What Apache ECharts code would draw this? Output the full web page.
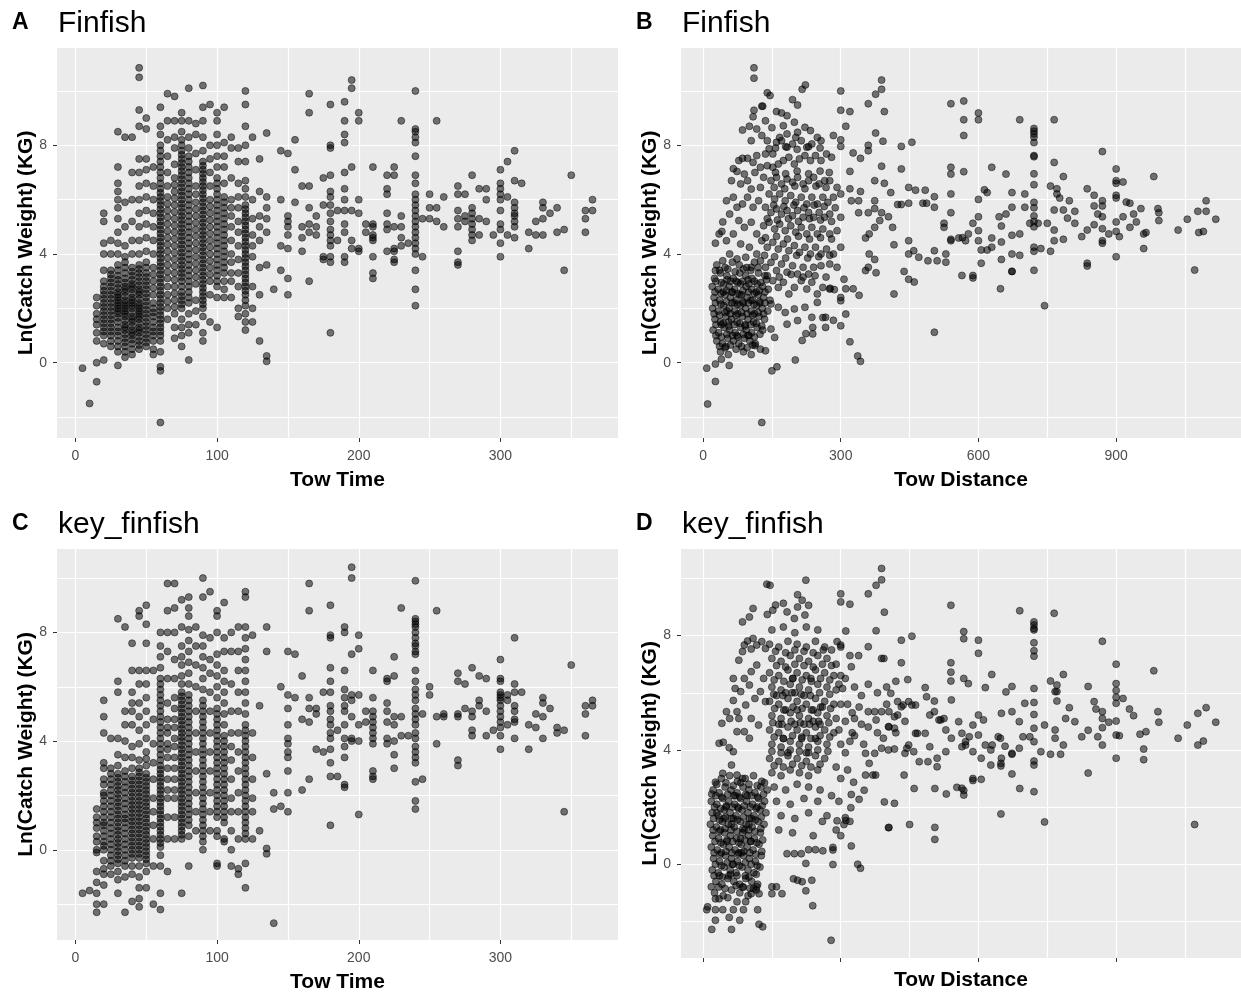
<!DOCTYPE html>
<html>
<head>
<meta charset="utf-8">
<script src="https://cdn.jsdelivr.net/npm/echarts@6.0.0/dist/echarts.min.js"></script>
<style>
  html, body { margin: 0; padding: 0; background: #fff; }
  #main { width: 1241px; height: 996px; }
</style>
</head>
<body>
<div id="main"></div>
<script>
// ---------- A: Finfish, ln(catch) grouped by tow time (min) ----------
var towTimeA = [5,10,15,20,25,30,35,40,45,50,55,60,65,70,75,80,85,90,95,100,105,110,115,120,125,130,135,140,145,150,155,160,165,170,175,180,185,190,195,200,205,210,220,225,230,235,240,245,250,255,260,270,275,280,285,290,295,300,305,310,315,320,325,330,335,340,345,350,360,365];
var lnCatchA = [
  [-0.2],
  [-1.5],
  [-0.7,0.0,0.8,1.1,1.4,1.8,2.1,1.6,2.4],
  [0.1,0.7,1.0,1.3,1.6,1.9,2.2,2.5,2.8,3.0,3.4,4.0,4.4,5.2,5.5,1.15,1.45,1.75,2.05,2.35,2.65],
  [0.6,1.0,1.3,1.6,1.9,2.2,2.5,2.8,3.1,3.4,4.0,4.5,0.8,1.15,1.45,1.75,2.05,2.35,2.65,2.95,3.25],
  [-0.1,0.4,0.8,1.0,1.3,1.5,1.8,2.0,2.2,2.4,2.6,2.9,3.2,3.6,4.0,4.4,4.8,5.3,5.7,6.0,6.3,6.6,7.2,8.5,0.6,1.15,1.65,1.9,2.1,2.3,2.5,2.75,3.05,3.4],
  [0.2,0.6,0.9,1.2,1.4,1.7,1.9,2.1,2.3,2.6,2.8,3.1,3.5,3.9,4.3,5.0,5.9,8.3,0.4,0.75,1.05,1.3,1.55,1.8,2.0,2.2,2.45,2.7,2.95,3.3,3.7],
  [0.3,0.7,1.0,1.2,1.5,1.7,2.0,2.2,2.4,2.7,2.9,3.2,3.5,4.0,4.5,5.2,6.0,7.0,8.3,0.5,0.85,1.1,1.35,1.6,1.85,2.1,2.3,2.55,2.8,3.05,3.35],
  [0.5,0.8,1.1,1.3,1.6,1.8,2.0,2.2,2.5,2.7,3.0,3.3,3.6,4.0,4.5,5.0,5.5,6.0,6.5,7.0,7.5,8.7,9.3,10.5,10.85,0.65,0.95,1.2,1.45,1.7,1.9,2.1,2.35,2.6,2.85,3.15,3.45],
  [0.6,0.9,1.2,1.5,1.8,2.1,2.4,2.7,3.0,3.3,3.7,4.1,4.6,5.1,5.6,6.1,6.6,7.1,7.5,8.6,9.0,0.75,1.05,1.35,1.65,1.95,2.25,2.55,2.85,3.15,3.5],
  [0.3,0.5,1.0,1.3,1.7,2.0,2.5,3.0,3.5,4.0,4.5,5.0,5.5,6.0,6.5,7.2,0.8,1.15,1.5,1.85,2.2,2.75,3.25],
  [-2.2,-0.3,-0.15,0.4,0.8,1.0,1.3,1.6,1.9,2.2,2.5,2.8,3.1,3.4,3.7,4.0,4.3,4.6,4.9,5.2,5.5,5.8,6.1,6.4,6.8,7.2,7.6,8.0,8.4,8.7,9.4,
   1.15,1.45,1.75,2.05,2.35,2.65,2.95,3.25,3.55,3.85,4.15,4.45,4.75,5.05,5.35,5.65,5.95,6.25,6.6,7.0,7.4,7.8],
  [1.6,2.0,2.5,3.1,3.6,4.1,4.6,5.1,5.6,6.1,6.5,7.0,7.6,8.2,8.9,9.9,2.25,2.8,3.35,3.85,4.35,4.85,5.35,5.85],
  [0.9,1.3,1.8,2.3,2.8,3.3,3.8,4.3,4.8,5.3,5.8,6.3,6.8,7.3,7.9,8.3,8.9,9.8,2.05,2.55,3.05,3.55,4.05,4.55,5.05,5.55,6.05,6.55],
  [0.6,1.0,1.3,1.6,2.0,2.3,2.6,3.0,3.3,3.6,3.9,4.2,4.5,4.8,5.1,5.4,5.7,6.0,6.3,6.6,6.9,7.2,7.5,7.8,8.2,8.5,8.9,9.2,
   2.15,2.45,2.8,3.15,3.45,3.75,4.05,4.35,4.65,4.95,5.25,5.55,5.85,6.15,6.45,6.75,7.05,7.35,7.65,8.0],
  [0.1,1.1,1.4,1.8,2.2,2.6,3.0,3.4,3.8,4.2,4.6,5.0,5.4,5.8,6.2,6.6,7.0,7.4,7.9,8.3,8.9,10.1,2.4,2.8,3.2,3.6,4.0,4.4,4.8,5.2,5.6,6.0,6.4,6.8,7.2,7.6],
  [1.4,1.9,2.3,2.9,3.4,3.9,4.4,4.9,5.4,5.9,6.5,7.1,7.7,8.4,8.8,3.15,3.65,4.15,4.65,5.15,5.65,6.2],
  [0.8,1.1,1.7,2.0,2.3,2.6,2.9,3.2,3.5,3.8,4.1,4.4,4.7,5.0,5.3,5.6,5.9,6.2,6.5,6.8,7.1,7.4,7.8,8.3,8.9,9.4,10.2,
   2.15,2.45,2.75,3.05,3.35,3.65,3.95,4.25,4.55,4.85,5.15,5.45,5.75,6.05,6.35,6.65,6.95,7.25],
  [1.5,2.5,3.0,3.5,4.0,4.5,5.0,5.5,6.0,6.5,7.0,7.5,8.0,9.5,3.25,3.75,4.25,4.75,5.25,5.75],
  [1.3,2.4,2.8,3.2,3.6,4.0,4.4,4.8,5.2,5.6,6.0,6.4,6.8,7.2,7.6,8.0,8.4,8.9,9.2,3.0,3.4,3.8,4.2,4.6,5.0,5.4,5.8,6.2,6.6],
  [2.4,2.7,3.0,3.3,3.7,4.1,4.5,4.9,5.3,5.7,6.1,6.6,7.2,7.6,8.1,9.4,3.5,3.9,4.3,4.7,5.1,5.5,5.9],
  [2.4,3.0,3.3,3.7,4.0,4.5,5.0,5.4,5.7,6.0,6.8,7.9,8.3],
  [1.7,2.0,2.8,3.3,3.8,4.3,4.8,5.2,5.7,6.1,6.6,7.4,7.9],
  [1.2,1.5,1.8,2.1,2.5,2.8,3.1,3.4,3.7,4.0,4.3,4.6,4.9,5.2,5.5,5.8,6.1,6.4,6.7,7.4,8.0,8.7,9.5,10.0,
   2.3,2.65,2.95,3.25,3.55,3.85,4.15,4.45,4.75,5.05,5.35,5.65],
  [1.5,2.0,2.8,3.9,4.3,4.7,5.3,6.0,8.3],
  [0.8,2.5,3.5,4.5,5.0,5.4,6.3,7.5],
  [0.05,0.25,3.6,4.8,5.3,5.7,6.1,8.45],
  [2.7],
  [3.4,4.3,6.0,7.8],
  [2.5,3.1,4.2,4.7,5.0,5.2,5.4,7.7],
  [5.9,7.1,8.2],
  [4.1,4.6,5.0,6.5],
  [3.0,4.8,5.1,5.7,6.5,9.2,9.9],
  [4.7,5.0,5.4],
  [3.8,3.9,5.8,6.8],
  [1.1,3.7,3.9,4.3,4.5,4.7,4.9,5.2,5.5,5.8,6.1,6.3,6.9,7.9,8.0,9.5],
  [4.5,5.6],
  [3.7,3.9,4.8,5.1,5.6,6.0,6.4,7.0,8.1,8.4,8.9,9.6],
  [4.2,4.5,5.6,7.2,10.1,10.4],
  [4.1,4.2,5.5,6.0,8.9,9.2],
  [4.8,5.1],
  [3.1,3.3,3.9,4.5,4.6,4.7,5.0,5.1,7.2],
  [4.1,4.9,5.1,5.5,6.2,6.4,6.9],
  [3.7,3.8,4.1,4.2,5.0,6.9,7.2],
  [4.3,4.6,5.0,5.4,8.9],
  [4.4],
  [2.1,2.7,3.4,4.0,4.2,4.4,4.6,4.8,5.0,5.2,5.4,5.6,5.8,6.0,6.2,6.6,6.9,7.6,8.1,8.3,8.5,8.6,10.0],
  [3.9,5.3],
  [5.3,5.7,6.2],
  [5.2,5.7,8.9],
  [5.0,6.1],
  [3.6,3.7,4.1,5.0,5.3,5.6,6.2,6.5],
  [5.2,5.4,6.2],
  [4.5,4.7,4.9,5.1,5.3,5.5,5.7,6.9],
  [4.7,5.3,6.4],
  [5.2,6.0,6.4],
  [4.7],
  [3.9,4.4,4.9,5.1,5.6,6.0,6.2,6.4,6.6,7.1],
  [4.7,6.1,7.4],
  [4.6,5.0,5.2,5.4,5.5,5.7,5.9,6.7,7.8],
  [6.6],
  [4.2,4.8],
  [4.7,5.2],
  [4.7,5.3,5.7,5.9],
  [5.5],
  [4.8,5.7],
  [3.4,4.9],
  [6.9],
  [4.8,5.3,5.6],
  [5.6,6.0]
];

// ---------- B: Finfish, [tow distance, ln(catch)] ----------
var towDistB = [
  [111,10.85],[111,10.47],[140,9.93],[146,9.83],[223,10.22],[216,10.06],[300,10.0],[389,10.4],[389,10.06],[376,9.88],
  [360,9.53],[195,9.68],[206,9.48],[130,9.44],[111,9.29],[300,9.29],[320,9.24],[395,9.24],[540,9.53],[568,9.63],
  [600,9.19],[600,8.94],[568,8.94],[568,8.36],[690,8.94],[765,8.94],
  [721,8.62],[721,8.52],[721,8.42],[721,8.3],[721,8.1],[721,7.62],[721,7.58],[721,6.95],[721,6.55],[721,5.9],
  [721,5.7],[721,5.4],[721,5.2],[721,5.0],[721,4.25],[721,4.1],[721,3.4],
  [870,7.77],[765,7.37],[785,6.85],[900,7.13],[900,6.7],[900,6.6],[915,6.65],[900,6.16],[900,6.06],[982,6.85],
  [629,7.19],[660,6.94],[540,7.19],[540,6.94],[568,7.03],[432,7.96],[455,8.11],[432,7.13],[360,8.0],[360,7.8],
  [392,8.15],[376,8.45],[311,8.7],[284,8.36],[300,8.2],[300,7.96],[327,7.72],[343,7.52],[389,7.23],[395,6.6],
  [409,6.26],[374,6.7],[343,6.3],
  [448,6.45],[463,6.35],[484,6.35],[479,5.87],[487,5.87],[504,6.11],[504,5.72],[525,5.13],[525,4.98],[540,6.21],
  [540,5.52],[540,4.54],[540,4.49],[557,4.59],[565,4.6],[572,4.49],[578,4.74],[588,5.13],[600,6.01],[600,5.37],
  [600,4.86],[600,4.49],[606,4.15],[619,4.15],[613,6.36],[619,6.26],[629,4.59],[629,4.25],[645,5.37],[650,5.03],
  [650,4.44],[650,3.8],[660,5.47],[673,6.26],[673,5.72],[673,4.69],[673,4.0],[673,3.36],[690,4.74],[690,3.95],
  [701,6.21],[701,5.72],[712,5.13],[730,5.13],[736,4.2],[744,2.1],[750,5.13],[757,6.5],[757,4.1],[765,5.62],
  [765,4.88],[765,4.49],[771,6.4],[771,6.21],[777,6.06],[785,5.62],[785,4.54],[794,5.32],[798,5.96],[810,5.57],
  [810,5.13],[825,4.64],[837,6.4],[837,4.88],[837,3.66],[837,3.56],[852,6.16],[852,5.77],[852,5.08],[860,5.47],
  [870,5.96],[870,5.77],[870,5.37],[870,4.93],[870,4.49],[870,4.4],[884,4.74],[900,5.18],[900,4.83],[900,3.9],
  [907,4.64],[915,5.37],[922,5.91],[930,5.87],[930,4.98],[938,5.47],[944,5.18],[954,5.67],[960,4.74],[965,4.79],
  [960,4.2],[991,5.67],[993,5.52],[993,5.23],[1035,4.88],[1055,5.28],[1071,3.41],[1078,5.57],[1080,4.79],[1090,4.83],
  [1096,5.96],[1096,5.57],[1117,5.28],
  [320,7.04],[320,6.4],[323,5.96],[339,5.96],[339,5.52],[360,5.52],[362,4.74],[354,4.59],[374,5.96],[374,5.67],
  [374,4.98],[385,5.23],[389,5.52],[404,5.37],[413,4.98],[416,4.34],[424,5.82],[432,5.82],[448,5.87],[448,4.49],
  [448,4.0],[459,4.12],[470,3.88],[490,3.75],[504,4.12],[510,3.75],[529,4.0],[529,3.7],[362,4.0],[374,3.8],
  [360,3.51],[377,3.31],[354,3.39],[416,2.53],[438,3.36],[448,3.07],[460,2.97],[504,1.12],[564,3.21],[588,3.21],
  [588,3.12],[606,3.66],[648,2.72],[673,3.36],
  [311,2.72],[327,2.72],[307,3.07],[340,2.48],[320,0.77],[337,0.25],[343,0.05],[300,2.4],[300,2.28],[311,1.79],
  [300,1.36],[284,1.56],[267,1.3],[261,1.66],[286,2.69],[277,2.74],
  [8,-0.2],[10,-1.52],[27,-0.69],[27,-0.05],[40,0.13],[57,-0.1],[128,-2.2],[150,-0.3],[161,-0.15],[201,0.1],
  [216,0.82],[239,1.3],[239,1.06],[224,1.07],[267,1.67],
  [86,8.56],[101,8.7],[109,9.05],[128,9.44],[117,8.6],[136,8.9],[150,8.65],[160,9.24],[171,9.19],[183,9.09],
  [199,8.85],[175,8.72],[86,7.52],[78,7.44],[97,7.52],[109,7.37],[117,7.62],[74,7.04],[90,6.94],[113,7.0],
  [97,6.7],[66,7.14],[62,6.7],
  [144,7.87],[152,7.68],[140,7.25],[160,8.11],[171,8.17],[183,7.93],[195,8.05],[202,8.29],[214,8.17],[226,7.93],
  [237,8.05],[249,8.29],[257,8.17],[222,8.66],[234,8.54],[206,8.48],[183,8.42],[167,8.29],
  [152,7.19],[164,7.31],[175,7.44],[187,7.56],[199,7.31],[210,7.5],[222,7.62],[234,7.44],[245,7.62],[257,7.44],
  [269,7.68],[280,7.56],
  [148,6.7],[160,6.82],[171,6.58],[183,6.76],[195,6.64],[206,6.82],[218,6.58],[230,6.7],[241,6.82],[253,6.58],
  [265,6.7],[276,6.7],[292,6.45],
  [144,6.21],[156,6.02],[167,6.21],[179,5.96],[191,6.15],[202,5.9],[214,6.09],[226,5.84],[237,6.09],[249,5.84],
  [261,6.09],[272,5.9],[284,6.09],[300,6.21],
  [136,5.72],[148,5.53],[160,5.66],[171,5.47],[183,5.6],[195,5.41],[206,5.6],[218,5.35],[230,5.53],[241,5.35],
  [253,5.53],[265,5.35],[276,5.47],[300,5.35],
  [132,5.04],[144,5.17],[156,4.92],[167,5.1],[179,4.86],[191,5.04],[202,4.8],[214,4.98],[226,4.74],[237,4.98],
  [249,4.74],[261,4.92],[276,4.74],[292,4.86],
  [128,4.49],[140,4.25],[152,4.43],[164,4.18],[175,4.37],[187,4.12],[199,4.31],[210,4.06],[222,4.25],[234,4.0],
  [245,4.25],[257,4.0],[269,4.18],[284,4.0],[300,4.25],
  [125,3.75],[136,3.51],[148,3.69],[160,3.39],[171,3.63],[183,3.33],[195,3.57],[206,3.26],[218,3.51],[230,3.26],
  [241,3.51],[257,3.57],[276,3.63],[292,3.51],
  [152,3.02],[164,2.77],[175,2.96],[187,2.53],[199,2.77],[214,3.02],[226,2.71],[237,2.96],[249,2.53],[261,2.77],
  [276,2.71],
  [148,2.16],[164,2.04],[179,1.85],[199,1.98],[222,2.04],[237,1.67],[249,2.22],[183,1.42],[206,1.55],[148,1.24],
  [156,0.93],[136,0.44],[125,0.5],[113,0.63],
  [158,7.9],[180,7.95],[205,7.85],[230,7.95],[255,7.9],
  [158,7.0],[180,6.95],[205,7.05],[230,6.95],[255,7.05],[275,7.0],
  [155,6.45],[178,6.4],[200,6.5],[222,6.4],[246,6.5],[268,6.45],
  [154,5.8],[176,5.75],[198,5.8],[220,5.7],[242,5.8],[264,5.75],[288,5.7],
  [140,5.3],[162,5.25],[186,5.3],[208,5.2],[232,5.3],[256,5.25],[280,5.2],
  [136,4.6],[160,4.65],[184,4.55],[208,4.65],[232,4.55],[256,4.6],[280,4.55],
  [134,3.95],[156,3.9],[180,3.85],[204,3.95],[228,3.85],[252,3.9],[276,3.95],
  [140,3.2],[166,3.15],[192,3.25],[218,3.15],[244,3.2],[268,3.15],
  [43,5.18],[51,5.96],[66,6.09],[41,4.83],[27,4.4],[35,4.74],[58,5.47],[74,5.72],[86,5.84],[97,6.09],
  [109,5.72],[121,5.96],[78,5.23],[90,4.98],[105,5.17],[117,4.74],[66,4.74],[51,4.49],[82,4.37],[101,4.25],
  [117,4.0],[58,4.0],[74,3.82],[93,3.88],[105,3.51],[43,3.75],[27,3.39],
  [82,6.58],[105,6.39],[125,6.45],[132,6.82],[125,7.19],[136,7.68],[105,8.17],[128,8.36],[140,8.17],
  [30,3.6],[48,3.5],[64,3.7],[79,3.6],[95,3.5],[112,3.7],
  [36,3.4],[54,3.45],[70,3.35],[88,3.45],[104,3.4],[120,3.5],
  [25,3.1],[38,3.3],[52,3.2],[66,3.1],[80,3.3],[93,3.2],[107,3.1],[121,3.3],[135,3.2],
  [28,3.0],[40,2.95],[52,3.05],[72,3.0],[76,2.95],[98,3.05],[112,3.0],[126,2.95],[138,3.05],
  [20,2.8],[33,2.7],[45,2.9],[57,2.8],[69,2.7],[82,2.9],[94,2.8],[106,2.7],[118,2.9],[130,2.8],[142,2.7],
  [26,2.6],[39,2.55],[51,2.65],[63,2.6],[75,2.55],[87,2.65],[99,2.6],[111,2.55],[123,2.65],[135,2.6],
  [24,2.4],[36,2.3],[48,2.5],[60,2.4],[72,2.3],[84,2.5],[96,2.4],[108,2.3],[120,2.5],[132,2.4],[146,2.3],
  [27,2.2],[39,2.15],[51,2.25],[63,2.2],[75,2.15],[87,2.25],[99,2.2],[111,2.15],[123,2.25],[135,2.2],
  [21,2.0],[33,1.9],[45,2.1],[57,2.0],[69,1.9],[81,2.1],[93,2.0],[105,1.9],[117,2.1],[129,2.0],[141,1.9],
  [24,1.8],[36,1.75],[48,1.85],[60,1.8],[72,1.75],[84,1.85],[96,1.8],[108,1.75],[120,1.85],[132,1.8],
  [26,1.6],[38,1.5],[50,1.7],[62,1.6],[74,1.5],[86,1.7],[98,1.6],[110,1.5],[122,1.7],[134,1.6],
  [28,1.4],[44,1.45],[56,1.35],[68,1.4],[80,1.45],[92,1.35],[104,1.4],[116,1.45],[128,1.35],
  [22,1.2],[34,1.1],[46,1.3],[58,1.2],[70,1.1],[82,1.3],[94,1.2],[106,1.1],[118,1.3],[130,1.2],
  [28,1.0],[40,0.95],[52,1.05],[64,1.0],[76,0.95],[88,1.05],[100,1.0],[112,0.95],[124,1.05],
  [30,0.8],[42,0.7],[54,0.9],[66,0.8],[78,0.7],[90,0.9],[102,0.8],[114,0.7],
  [36,0.6],[48,0.55],[60,0.65],[84,0.6],[96,0.55],[108,0.65],
  [38,0.4],[55,0.3],[72,0.5],[88,0.4],[105,0.3],
  [40,1.4],[52,1.9],[64,2.6],[76,1.8],[88,2.2],[100,2.9],[112,1.8],[124,2.2],[44,2.6],[56,1.5],
  [68,2.2],[80,2.5],[92,1.4],[104,2.3],[116,2.6],[60,3.0],[86,3.0],[74,1.0],[98,1.0],[50,0.6]
];

// ---------- C: key_finfish, ln(catch) grouped by tow time (min) ----------
var towTimeC = [5,10,15,20,25,30,35,40,45,50,55,60,65,70,75,80,85,90,95,100,105,110,115,120,125,130,135,140,145,150,155,160,165,170,175,180,185,190,195,200,205,210,220,225,230,235,240,245,250,255,260,270,275,280,285,290,295,300,305,310,315,320,325,330,335,340,345,350,360,365];
var lnCatchC = [
  [-1.6],
  [-1.5],
  [1.5,0.3,-0.1,-0.8,-1.2,-1.6,-2.0,-2.3,0.8,1.0,0.0,0.5,1.2],
  [5.5,4.9,4.3,3.2,3.0,2.4,2.1,1.4,1.2,0.9,0.7,0.3,0.0,-0.4,-0.7,-0.9,-1.3,-2.0,1.8,0.15,0.5,1.0,1.6,2.0,2.6],
  [4.1,3.0,2.6,2.2,1.8,1.4,1.0,0.6,0.2,-0.2,-0.6,-0.9,0.0,0.4,0.8,1.2,1.6,2.0,2.4,2.8,-0.4],
  [8.5,6.2,5.8,4.1,3.5,3.1,2.8,2.5,2.2,1.9,1.6,1.3,1.0,0.7,0.4,0.1,-0.2,-0.5,-0.8,-1.1,-1.6,
   -0.35,-0.05,0.25,0.55,0.85,1.15,1.45,1.75,2.05,2.35,2.65],
  [8.2,5.1,4.6,4.0,3.4,2.9,2.5,2.1,1.7,1.3,1.0,0.6,0.2,-0.2,-0.6,-1.0,-2.3,-0.4,0.0,0.4,0.8,1.15,1.5,1.9,2.3,2.7],
  [7.6,6.6,5.8,5.4,5.1,4.6,3.8,3.4,2.7,2.4,2.1,1.8,1.5,1.2,0.9,0.6,0.3,0.0,-0.3,-0.6,-0.9,-1.9,
   -0.15,0.15,0.45,0.75,1.05,1.35,1.65,1.95,2.25,2.55,3.0],
  [8.8,8.6,6.6,6.1,5.4,4.9,4.4,3.9,3.3,3.0,2.7,2.4,2.1,1.8,1.5,1.2,0.9,0.6,0.3,0.0,-0.3,-0.6,-1.0,-1.4,-1.8,-2.1,
   -0.15,0.15,0.45,0.75,1.05,1.35,1.65,1.95,2.25,2.55,2.85],
  [9.0,8.3,7.6,6.6,6.1,5.6,5.1,4.6,4.1,3.6,3.1,2.8,2.5,2.2,1.9,1.6,1.3,1.0,0.7,0.4,0.1,-0.2,-0.5,-0.8,-1.4,
   -0.35,-0.05,0.25,0.55,0.85,1.15,1.45,1.75,2.05,2.35,2.65,3.35],
  [6.6,4.8,3.9,2.6,1.4,0.4,-0.6,-2.0,0.9,1.9,3.2],
  [8.0,7.5,7.1,6.7,6.3,5.9,5.5,5.1,4.7,4.3,3.9,3.5,3.1,2.8,2.5,2.2,1.9,1.6,1.3,1.0,0.7,0.4,0.1,-0.2,-0.6,-1.6,-2.2,
   0.25,0.55,0.85,1.15,1.45,1.75,2.05,2.35,2.65,2.95,3.3,3.7,4.1,4.5,4.9,5.3,5.7,6.1],
  [9.8,8.8,8.0,7.3,6.3,5.4,4.8,4.3,3.9,3.4,2.6,1.9,1.2,0.4,-0.8,2.2,3.0,3.7,4.5],
  [9.8,8.9,8.0,7.0,6.3,5.6,4.8,4.1,3.4,2.6,1.9,1.2,0.4,2.2,3.0,3.8,4.5,5.2],
  [9.2,8.2,7.5,7.1,6.8,6.4,6.1,5.8,5.5,5.2,4.9,4.6,4.3,4.0,3.7,3.4,3.1,2.8,2.5,2.2,1.9,1.6,1.3,1.0,0.7,0.4,-1.6,
   0.55,0.85,1.15,1.45,1.75,2.05,2.35,2.65,2.95,3.25,3.55,3.85,4.15,4.45,4.75,5.05,5.35,5.65],
  [9.3,8.9,8.6,8.1,7.7,7.3,6.9,6.5,6.1,5.7,5.3,4.9,4.5,4.1,3.7,3.3,2.9,2.5,2.1,1.7,1.3,0.9,0.5,-0.6,
   1.1,1.5,1.9,2.3,2.7,3.1,3.5,3.9,4.3,4.7,5.1,5.5],
  [8.2,7.5,6.8,6.0,5.1,4.3,3.6,2.9,2.1,1.4,0.7],
  [10.0,9.3,7.9,7.5,7.1,6.7,6.3,5.9,5.5,5.1,4.7,4.3,3.9,3.5,3.1,2.7,2.3,1.9,1.5,1.1,0.7,0.3,0.0,
   0.5,0.9,1.3,1.7,2.1,2.5,2.9,3.3,3.7,4.1,4.5,4.9,5.3],
  [9.5,7.8,7.0,6.5,5.8,5.1,4.3,3.6,2.9,2.1,1.4,0.7],
  [8.8,8.6,8.0,7.2,6.8,6.4,6.0,5.6,5.2,4.8,4.4,4.0,3.6,3.2,2.8,2.4,2.0,1.6,1.2,0.7,0.5,-0.5,-0.6,1.4,1.8,2.2,2.6,3.0,3.4,3.8,4.2,4.6,5.0],
  [9.1,7.8,7.3,6.6,6.2,5.8,5.4,5.0,4.6,4.2,3.8,3.4,3.0,2.6,2.2,1.8,1.4,1.0,0.4,0.3,1.2,1.6,2.0,2.4,2.8,3.2,3.6,4.0],
  [8.0,7.3,6.1,5.1,4.3,3.8,3.3,2.6,1.9,1.4,0.7,0.0,-0.6],
  [8.2,7.3,6.6,5.8,5.1,4.3,3.6,2.9,2.1,1.4,0.4,-0.7,-0.9],
  [9.5,9.3,8.2,7.8,7.4,7.0,6.6,6.2,5.8,5.4,5.0,4.6,4.2,3.8,3.4,3.0,2.6,2.2,1.8,1.4,1.0,0.6,0.4,-0.5,-1.4,
   0.8,1.2,1.6,2.0,2.4,2.8,3.2,3.6,4.0,4.4],
  [7.9,4.3,3.4,2.6,1.9,1.4,0.4],
  [5.3,0.7],
  [8.2,7.3,2.8,0.05,-0.15],
  [2.1,1.5,-2.7],
  [6.0,1.6],
  [7.3,5.7,5.2,4.6,4.1,3.9,3.6,3.4,2.9,2.1,1.4],
  [7.2,5.6],
  [6.4,4.8,2.2],
  [9.8,8.8,5.6,5.2,4.7,2.6],
  [5.2,5.0,3.7],
  [5.8,3.6],
  [9.0,7.9,7.8,6.7,6.2,5.8,5.3,5.1,4.8,4.6,4.3,4.1,3.7,3.2,2.7,0.9],
  [4.4,2.7],
  [8.2,8.0,6.6,5.9,5.6,5.3,5.1,4.6,4.1,3.8,3.4,2.4,2.3],
  [10.4,10.0,7.2,5.7,5.5,4.9,4.1,4.0],
  [7.9,7.4,5.7,4.6,4.0,1.3],
  [5.1,4.7],
  [6.6,5.6,5.1,4.9,4.7,4.5,4.3,4.1,3.9,2.9,2.7,2.6],
  [6.3,6.2,5.4,5.1,4.7,4.1,3.9],
  [7.1,6.4,4.9,4.6,4.0,3.5,3.0],
  [8.9,4.9,4.2],
  [4.2],
  [9.9,8.5,8.4,8.3,8.2,8.0,7.8,7.6,7.5,7.3,7.2,6.6,6.2,5.9,5.7,5.5,5.2,5.0,4.8,4.6,4.3,4.1,3.8,3.6,3.4,3.2,2.5,1.8,1.5],
  [5.0,2.6],
  [6.0,5.7],
  [8.8,4.9,3.9],
  [4.9,5.0],
  [6.5,6.2,5.0,4.9,3.3,3.1],
  [6.1,5.2],
  [6.7,5.1,4.9,4.4,4.2],
  [6.4,5.5,5.3],
  [6.3,5.1,4.2],
  [4.4],
  [7.0,6.3,6.2,5.8,5.7,5.6,5.5,5.3,5.1,4.9,4.7,4.5,4.2,3.7],
  [5.7,5.5,4.6],
  [7.8,6.1,5.8,5.3,5.1,4.8,4.7,4.1],
  [5.8],
  [4.6,3.7],
  [5.0,4.5],
  [5.6,5.4,4.9,4.1],
  [5.2],
  [4.5,4.3],
  [4.4,1.4],
  [6.8],
  [5.3,5.0,4.2],
  [5.5,5.3]
];

// ---------- D: key_finfish, [tow distance, ln(catch)] ----------
var towDistD = [
  [389,10.35],[389,9.95],[377,9.76],[360,9.46],[224,9.94],[139,9.8],[146,9.76],[300,9.46],[300,9.18],[320,9.1],
  [206,9.43],[216,9.24],[230,9.06],[222,8.72],[395,8.82],[377,8.17],[360,7.61],[540,9.06],[690,8.87],[765,8.78],
  [721,8.48],[721,8.37],[721,8.25],[721,8.2],[721,7.75],[721,7.47],[721,7.28],[568,8.14],[568,7.89],[600,7.84],
  [600,7.38],[870,7.8],[900,7.0],[982,6.77],[455,7.98],[432,7.84],[432,7.05],[540,7.05],[540,6.72],[540,6.41],
  [568,6.5],[578,6.32],[629,6.64],[660,6.03],[673,6.22],[615,6.18],[446,6.46],[484,6.18],[757,6.41],[771,6.27],
  [785,6.64],[771,6.04],[839,6.22],[900,6.32],[900,6.08],[1071,1.39],[744,1.48],[649,1.76],[505,1.29],[505,0.87],
  [450,1.39],[405,1.29],[395,2.18],[417,2.13],[460,2.65],[505,2.65],[530,2.46],[553,2.69],[568,2.58],[568,2.42],
  [588,2.93],[606,2.97],[690,2.65],[721,2.54],[673,3.16],[649,3.44],
  [283,-0.01],[279,-2.66],[337,0.0],[343,-0.14],[323,0.64],[283,0.59],[283,0.5],[311,1.53],[307,1.39],[310,1.63],
  [292,1.52],[322,1.98],[323,2.44],[351,2.59],[340,2.27],[328,2.87],[404,1.28],
  [239,-1.45],[206,-0.56],[216,-0.61],[197,-0.51],[224,-0.93],[237,-0.56],[224,0.03],[183,0.37],[199,0.37],[214,0.37],
  [230,0.51],[245,0.51],[261,0.47],[150,-1.03],[150,-0.79],[172,-1.03],[160,-0.79],
  [467,4.58],[484,4.58],[494,5.22],[504,5.34],[518,5.05],[529,4.7],[541,4.41],[541,5.75],[557,4.99],[564,4.58],
  [572,4.17],[580,4.46],[588,4.87],[600,5.22],[600,4.52],[611,5.05],[615,4.17],[627,4.0],[643,4.46],[650,3.71],
  [650,5.28],[658,4.13],[673,5.34],[673,3.85],[689,4.99],[697,4.46],[701,5.63],[712,4.46],[721,4.76],[721,4.29],
  [721,3.61],[721,3.47],[721,6.15],[721,5.66],[721,5.24],[736,3.94],[744,4.87],[757,3.85],[767,4.7],[767,4.41],
  [767,6.04],[771,5.71],[779,3.85],[785,4.17],[790,5.1],[798,5.48],[810,4.99],[825,4.46],[839,4.69],[839,3.19],
  [852,5.69],[856,5.43],[870,5.34],[870,5.1],[870,4.78],[870,4.17],[860,4.46],[884,4.97],[900,5.84],[900,5.63],
  [900,5.01],[900,4.52],[900,3.71],[915,5.8],[907,4.5],[929,5.43],[938,5.2],[952,4.55],[960,4.03],[960,3.66],
  [965,4.64],[991,5.34],[993,4.97],[1035,4.41],[1055,4.87],[1078,5.28],[1078,4.17],[1090,4.31],[1096,5.48],[1117,4.97],
  [487,5.86],[504,5.71],[514,5.05],[525,5.1],[424,5.69],[436,5.57],[463,5.57],[417,5.16],[405,4.81],[463,4.58],
  [494,4.11],[510,3.71],[510,3.41],[529,3.94],[471,3.59],[490,3.59],[440,3.88],[444,4.06],[564,4.11],[572,4.29],
  [588,3.94],[606,3.71],[627,3.47],[649,3.53],[673,3.88],[689,4.06],[648,4.41],[630,4.17],[588,3.0],[564,2.66],
  [292,7.79],[300,7.67],[311,8.16],[320,7.3],[339,7.3],[323,6.91],[304,6.15],[360,5.34],[374,5.34],[377,5.05],
  [389,5.34],[389,7.2],[394,7.2],[405,5.34],[404,4.81],[417,4.76],[424,5.22],[409,5.98],[432,5.51],[448,5.69],
  [455,5.57],[354,3.88],[374,3.88],[362,3.53],[376,3.12],[354,3.12],[370,3.12],[389,4.06],[404,4.0],[417,4.03],
  [438,3.12],[459,3.94],[448,4.17],[393,4.41],
  [310,6.5],[330,6.2],[345,5.9],[360,6.3],[380,6.0],[400,6.2],[420,6.4],[340,5.5],[360,4.8],[330,4.5],
  [350,4.2],[380,4.6],[400,5.6],[420,4.6],[440,5.0],[315,5.6],[325,5.3],[345,4.9],
  [19,2.46],[27,2.87],[43,3.18],[35,4.23],[44,4.27],[41,4.93],[57,4.08],[66,3.94],[62,3.47],[74,3.12],[86,3.0],
  [66,5.73],[74,5.34],[78,5.1],[82,6.04],[66,6.5],[70,6.15],[78,7.14],[86,7.44],[90,7.67],[97,7.81],
  [105,7.53],[109,7.9],[117,7.67],[128,7.79],[136,7.55],[86,8.48],[101,8.65],[109,8.95],[140,8.74],[158,9.07],
  [175,9.13],[183,8.83],[199,8.6],[206,9.0],[152,8.89],[90,6.5],[101,6.27],[113,5.8],[125,6.04],[136,5.69],
  [105,6.74],[117,6.97],[132,6.5],[93,5.57],[105,5.1],[121,4.87],[90,4.64],[101,4.41],[74,4.64],[58,5.1],[51,5.34],
  [150,8.2],[175,8.3],[200,8.1],[225,8.3],[250,8.2],
  [145,7.7],[165,7.6],[185,7.8],[205,7.7],[225,7.6],[245,7.8],[265,7.6],
  [158,7.45],[180,7.4],[200,7.5],[220,7.45],[240,7.4],[262,7.5],
  [150,7.2],[170,7.1],[190,7.3],[210,7.2],[230,7.1],[250,7.3],[270,7.2],
  [160,6.95],[180,6.9],[200,7.0],[220,6.95],[240,6.9],[260,7.0],[280,6.95],
  [145,6.7],[165,6.6],[185,6.8],[205,6.7],[225,6.6],[245,6.8],[265,6.7],[285,6.6],
  [155,6.45],[176,6.4],[196,6.5],[216,6.45],[236,6.4],[256,6.5],[276,6.45],
  [150,6.2],[170,6.1],[190,6.3],[210,6.2],[230,6.1],[250,6.3],[270,6.2],[290,6.1],
  [154,5.95],[174,5.9],[194,6.0],[214,5.95],[234,5.9],[254,6.0],[276,5.95],
  [145,5.7],[165,5.6],[185,5.8],[205,5.7],[225,5.6],[245,5.8],[265,5.7],[285,5.6],
  [156,5.45],[176,5.4],[196,5.5],[216,5.45],[236,5.4],[256,5.5],[278,5.45],
  [150,5.2],[170,5.1],[190,5.3],[210,5.2],[230,5.1],[250,5.3],[270,5.2],[290,5.1],
  [152,4.95],[172,4.9],[192,5.0],[212,4.95],[232,4.9],[252,5.0],[274,4.95],
  [145,4.7],[165,4.6],[185,4.8],[205,4.7],[225,4.6],[245,4.8],[265,4.7],[285,4.6],
  [155,4.45],[175,4.4],[195,4.5],[215,4.45],[235,4.4],[255,4.5],[276,4.45],
  [150,4.2],[170,4.1],[190,4.3],[210,4.2],[230,4.1],[250,4.3],[270,4.2],
  [150,3.95],[170,3.9],[190,4.0],[210,3.95],[230,3.9],[250,4.0],[272,3.95],
  [145,3.7],[165,3.6],[185,3.8],[205,3.7],[225,3.6],[245,3.8],[265,3.7],
  [155,3.45],[175,3.4],[195,3.5],[215,3.45],[235,3.4],[255,3.5],
  [150,3.2],[170,3.1],[190,3.3],[210,3.2],[230,3.1],[250,3.3],
  [155,2.7],[180,2.6],[205,2.8],[230,2.7],[255,2.6],
  [160,2.2],[190,2.1],[220,2.3],[250,2.2],
  [170,1.7],[200,1.6],[230,1.8],[260,1.5],
  [165,1.2],[195,1.1],[240,1.0],
  [160,5.9],[180,5.4],[200,4.9],[220,5.9],[240,5.4],[175,4.4],[195,6.5],[215,4.4],[235,6.5],[255,4.9],
  [165,4.9],[185,3.9],[205,5.4],[225,3.9],[245,4.4],[180,6.0],[200,6.0],[220,4.9],[240,5.0],[260,5.5],
  [280,7.5],[300,7.6],[290,7.0],[300,6.6],[296,6.3],[300,5.6],[310,5.0],[296,4.7],[300,4.2],[320,4.3],
  [310,3.9],[290,3.4],[300,3.0],[315,3.3],[325,4.6],[330,5.1],[296,2.2],[280,2.4],[270,1.7],[290,1.2],
  [300,1.0],[320,1.5],
  [40,3.0],[58,3.1],[75,2.9],[92,3.0],[110,3.1],[128,2.9],
  [30,2.8],[50,2.85],[66,2.75],[82,2.85],[100,2.8],[118,2.75],[134,2.85],
  [22,2.6],[35,2.5],[48,2.7],[61,2.6],[74,2.5],[87,2.7],[100,2.6],[113,2.5],[126,2.7],[140,2.6],
  [28,2.4],[41,2.35],[54,2.45],[67,2.4],[80,2.35],[93,2.45],[106,2.4],[119,2.35],[132,2.45],
  [18,2.2],[30,2.1],[43,2.3],[56,2.2],[69,2.1],[82,2.3],[95,2.2],[108,2.1],[121,2.3],[134,2.2],
  [25,2.0],[38,1.95],[51,2.05],[64,2.0],[77,1.95],[90,2.05],[103,2.0],[116,1.95],[129,2.05],
  [20,1.8],[33,1.7],[46,1.9],[59,1.8],[72,1.7],[85,1.9],[98,1.8],[111,1.7],[124,1.9],[137,1.8],
  [23,1.6],[36,1.55],[49,1.65],[62,1.6],[75,1.55],[88,1.65],[101,1.6],[114,1.55],[127,1.65],
  [16,1.4],[29,1.3],[42,1.5],[55,1.4],[68,1.3],[81,1.5],[94,1.4],[107,1.3],[120,1.5],[133,1.4],
  [22,1.2],[35,1.15],[48,1.25],[61,1.2],[74,1.15],[87,1.25],[100,1.2],[113,1.15],[126,1.25],
  [21,1.0],[34,0.9],[47,1.1],[60,1.0],[73,0.9],[86,1.1],[99,1.0],[112,0.9],[125,1.1],
  [26,0.8],[39,0.75],[52,0.85],[65,0.8],[78,0.75],[91,0.85],[104,0.8],[117,0.75],[130,0.85],
  [18,0.6],[31,0.5],[44,0.7],[57,0.6],[70,0.5],[83,0.7],[96,0.6],[109,0.5],[122,0.7],
  [24,0.4],[37,0.35],[50,0.45],[63,0.4],[76,0.35],[89,0.45],[102,0.4],[115,0.35],[128,0.45],
  [23,0.2],[36,0.1],[49,0.3],[62,0.2],[75,0.1],[88,0.3],[101,0.2],[114,0.1],[127,0.3],
  [27,0.0],[40,-0.05],[53,0.05],[66,0.0],[79,-0.05],[92,0.05],[105,0.0],[118,-0.05],
  [20,-0.2],[33,-0.3],[46,-0.1],[59,-0.2],[72,-0.3],[85,-0.1],[98,-0.2],[111,-0.3],[124,-0.1],
  [24,-0.4],[42,-0.45],[60,-0.35],[74,-0.4],[100,-0.45],[116,-0.35],
  [28,-0.6],[41,-0.7],[54,-0.5],[67,-0.6],[80,-0.7],[93,-0.5],[106,-0.6],[119,-0.7],
  [34,-0.8],[48,-0.85],[72,-0.75],[86,-0.8],[110,-0.85],
  [25,-1.0],[44,-1.1],[62,-0.9],[80,-1.0],[98,-1.1],[116,-0.9],
  [38,1.2],[52,0.8],[66,1.6],[78,0.4],[90,1.2],[104,0.8],[50,2.0],[64,0.0],[76,2.0],[92,-0.4],
  [106,1.6],[118,2.0],[40,0.4],[56,-0.4],[84,0.4],[70,2.4],[96,2.4],[30,1.8],[46,1.6],[62,1.4],
  [82,0.9],[100,1.4],[36,-0.4],[88,-0.8],
  [8,-1.59],[10,-1.49],[19,-2.28],[27,-1.96],[62,-2.28],[80,-1.96],[57,-1.86],[119,-1.59],[122,-2.1],[130,-2.19],
  [88,-1.59],[66,-1.59],[27,-1.59],[43,-1.59],[18,-0.79],[27,-1.21],[35,-1.21],[54,-1.17],[74,-1.31],[93,-1.31],
  [105,-1.03],[122,-1.03],[117,-0.79],[102,-0.84]
];

// x-axis value (tow time) repeated for every catch recorded at that time
function fromColumns(xs, cols) {
  var out = [];
  xs.forEach(function (x, i) {
    cols[i].forEach(function (y) { out.push([x, y]); });
  });
  return out;
}

var panels = [
  { tag: 'A', name: 'Finfish', left: 57, top: 48, width: 561, height: 390,
    x: [-13, 383], xStep: 50, xTicks: [0, 100, 200, 300], xName: 'Tow Time', xLabels: true,
    y: [-2.77, 11.58], yTicks: [0, 4, 8], data: fromColumns(towTimeA, lnCatchA) },
  { tag: 'B', name: 'Finfish', left: 681, top: 48, width: 560, height: 390,
    x: [-48, 1172], xStep: 150, xTicks: [0, 300, 600, 900], xName: 'Tow Distance', xLabels: true,
    y: [-2.77, 11.58], yTicks: [0, 4, 8], data: towDistB },
  { tag: 'C', name: 'key_finfish', left: 57, top: 549, width: 561, height: 391,
    x: [-13, 383], xStep: 50, xTicks: [0, 100, 200, 300], xName: 'Tow Time', xLabels: true,
    y: [-3.32, 11.07], yTicks: [0, 4, 8], data: fromColumns(towTimeC, lnCatchC) },
  { tag: 'D', name: 'key_finfish', left: 681, top: 549, width: 560, height: 409,
    x: [-48, 1172], xStep: 150, xTicks: [0, 300, 600, 900], xName: 'Tow Distance', xLabels: false,
    y: [-3.28, 11.03], yTicks: [0, 4, 8], data: towDistD }
];

var FONT = "'Liberation Sans', Arial, sans-serif";
var titleStyle = { fontSize: 21, fontWeight: 'bold', color: '#000', fontFamily: FONT };
var grids = [], xAxes = [], yAxes = [], series = [], titles = [];

panels.forEach(function (p, i) {
  grids.push({ left: p.left, top: p.top, width: p.width, height: p.height,
    show: true, backgroundColor: '#ebebeb', borderWidth: 0, containLabel: false, outerBoundsMode: 'none' });

  titles.push({ text: p.tag, left: p.left - 45, top: p.top - 37, padding: 0,
    textStyle: { fontSize: 23, fontWeight: 'bold', color: '#000', fontFamily: FONT } });
  titles.push({ text: p.name, left: p.left + 1, top: p.top - 39, padding: 0,
    textStyle: { fontSize: 30, fontWeight: 'normal', color: '#000', fontFamily: FONT } });

  // grid-line axes (every half step), nothing else drawn
  xAxes.push({ gridIndex: i, type: 'value', min: p.x[0], max: p.x[1],
    minInterval: p.xStep, maxInterval: p.xStep,
    axisLine: { show: false, onZero: false }, axisTick: { show: false }, axisLabel: { show: false },
    splitLine: { show: true, showMinLine: false, showMaxLine: false, lineStyle: { color: '#fff', width: 1.2 } } });
  yAxes.push({ gridIndex: i, type: 'value', min: p.y[0], max: p.y[1],
    minInterval: 2, maxInterval: 2,
    axisLine: { show: false, onZero: false }, axisTick: { show: false }, axisLabel: { show: false },
    splitLine: { show: true, showMinLine: false, showMaxLine: false, lineStyle: { color: '#fff', width: 1.2 } } });

  // tick / label / title axes
  xAxes.push({ gridIndex: i, type: 'value', position: 'bottom', min: p.x[0], max: p.x[1],
    axisLine: { show: false, onZero: false },
    axisTick: { show: true, length: 4, customValues: p.xTicks, lineStyle: { color: '#333', width: 1 } },
    axisLabel: { show: p.xLabels, customValues: p.xTicks, margin: 11, fontSize: 14, color: '#4d4d4d', fontFamily: FONT },
    splitLine: { show: false },
    name: p.xName, nameLocation: 'middle', nameGap: p.xLabels ? 32 : 12, nameMoveOverlap: false,
    nameTextStyle: titleStyle });
  yAxes.push({ gridIndex: i, type: 'value', position: 'left', min: p.y[0], max: p.y[1],
    axisLine: { show: false, onZero: false },
    axisTick: { show: true, length: 4, customValues: p.yTicks, lineStyle: { color: '#333', width: 1 } },
    axisLabel: { customValues: p.yTicks, margin: 10, fontSize: 14, color: '#4d4d4d', fontFamily: FONT },
    splitLine: { show: false },
    name: 'Ln(Catch Weight) (KG)', nameLocation: 'middle', nameGap: 20, nameMoveOverlap: false,
    nameTextStyle: titleStyle });

  series.push({ type: 'scatter', xAxisIndex: 2 * i + 1, yAxisIndex: 2 * i + 1,
    data: p.data, symbol: 'circle', symbolSize: 7, silent: true,
    itemStyle: { color: 'rgba(0,0,0,0.66)', borderColor: 'rgba(0,0,0,0.6)', borderWidth: 1 },
    emphasis: { disabled: true } });
});

var chart = echarts.init(document.getElementById('main'));
chart.setOption({
  animation: false,
  backgroundColor: '#fff',
  textStyle: { fontFamily: FONT },
  title: titles,
  grid: grids,
  xAxis: xAxes,
  yAxis: yAxes,
  tooltip: { show: false },
  series: series
});
</script>
</body>
</html>
